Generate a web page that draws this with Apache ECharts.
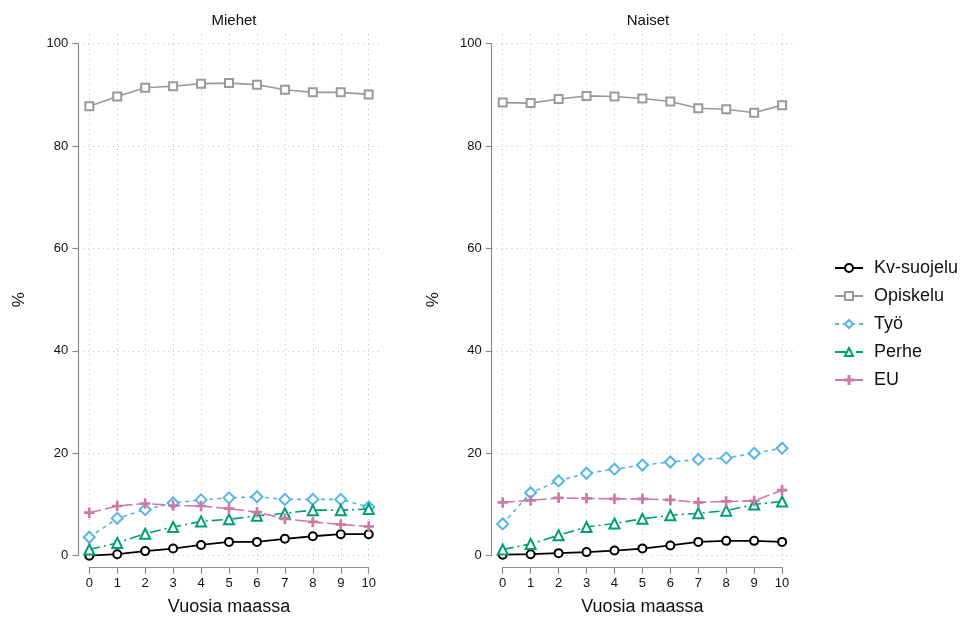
<!DOCTYPE html>
<html><head><meta charset="utf-8">
<script src="https://cdn.jsdelivr.net/npm/echarts@6/dist/echarts.min.js"></script>
<style>html,body{margin:0;padding:0;background:#fff}#c{width:963px;height:617px}</style>
</head><body><div id="c"></div>
<script>
const years = [0,1,2,3,4,5,6,7,8,9,10];
const seriesNames = ['Kv-suojelu','Opiskelu','Työ','Perhe','EU'];
const panelTitles = ['Miehet','Naiset'];
const yTicks = [0,20,40,60,80,100];
// Miehet
const kv_m    = [0, 0.3, 0.9, 1.4, 2.1, 2.7, 2.7, 3.3, 3.8, 4.2, 4.2];
const opisk_m = [87.8, 89.7, 91.4, 91.7, 92.2, 92.3, 92.0, 91.0, 90.5, 90.5, 90.1];
const tyo_m   = [3.6, 7.3, 9.0, 10.3, 10.9, 11.3, 11.5, 11.0, 11.0, 11.0, 9.5];
const perhe_m = [1.2, 2.5, 4.3, 5.6, 6.7, 7.1, 7.8, 8.3, 8.9, 8.9, 9.1];
const eu_m    = [8.4, 9.7, 10.2, 9.8, 9.7, 9.2, 8.5, 7.2, 6.6, 6.1, 5.7];
// Naiset
const kv_n    = [0.2, 0.3, 0.5, 0.7, 1.0, 1.4, 2.0, 2.7, 2.9, 2.9, 2.7];
const opisk_n = [88.5, 88.4, 89.2, 89.8, 89.7, 89.3, 88.7, 87.4, 87.2, 86.5, 88.0];
const tyo_n   = [6.2, 12.3, 14.6, 16.1, 16.9, 17.7, 18.3, 18.8, 19.1, 20.0, 21.0];
const perhe_n = [1.2, 2.3, 4.0, 5.6, 6.3, 7.2, 7.9, 8.3, 8.8, 10.0, 10.6];
const eu_n    = [10.4, 10.8, 11.3, 11.2, 11.1, 11.1, 10.9, 10.4, 10.6, 10.7, 12.8];

const panels = [
  [kv_m, opisk_m, tyo_m, perhe_m, eu_m],
  [kv_n, opisk_n, tyo_n, perhe_n, eu_n]
];

const FONT = 'Liberation Sans, Arial, sans-serif';
const styles = [
  {color:'#000000', type:'solid', symbol:'emptyCircle', size:8, width:1.8},
  {color:'#9a9a9a', type:'solid', symbol:'emptyRect', size:8, width:1.6},
  {color:'#56b4e9', type:[4,4], symbol:'emptyDiamond', size:11, width:1.6},
  {color:'#009e73', type:[11,4,2,4], symbol:'emptyTriangle', size:10, width:1.6},
  {color:'#cc79a7', type:[12,4], symbol:'path://M4.35,0h1.3v4.35h4.35v1.3h-4.35v4.35h-1.3v-4.35h-4.35v-1.3h4.35z', size:9, width:1.6}
];

const layouts = [
  {dataLeft:89.3, axisX:78, gridRight:380.5, cx:229},
  {dataLeft:502.7, axisX:491.5, gridRight:794, cx:643}
];
const dataW = 279.4, plotTop = 43.7, plotH = 512;
const gridColor = '#c4c4c4';

const grid = [], xAxis = [], yAxis = [], series = [], title = [];
layouts.forEach((L, p) => {
  const g0 = grid.length;
  grid.push({left:L.dataLeft, top:plotTop, width:dataW, height:plotH, containLabel:false, outerBoundsMode:'none'});
  grid.push({left:L.axisX, top:plotTop, width:L.gridRight - L.axisX, height:plotH, containLabel:false, outerBoundsMode:'none'});
  grid.push({left:L.dataLeft, top:34, width:dataW, height:528, containLabel:false, outerBoundsMode:'none'});

  xAxis.push({gridIndex:g0, type:'value', min:0, max:10, interval:1, offset:12,
    name:'Vuosia maassa', nameLocation:'middle', nameGap:30,
    nameTextStyle:{fontFamily:FONT, fontSize:18, color:'#111'},
    axisLine:{show:true, onZero:false, lineStyle:{color:'#8c8c8c', width:1.2}},
    axisTick:{show:true, length:6, lineStyle:{color:'#8c8c8c', width:1.2}},
    axisLabel:{fontFamily:FONT, fontSize:13, color:'#111', margin:9},
    splitLine:{show:false}});
  yAxis.push({gridIndex:g0, type:'value', min:0, max:100, interval:20, offset:11,
    name:'%', nameLocation:'middle', nameGap:50, nameRotate:90,
    nameTextStyle:{fontFamily:FONT, fontSize:17, color:'#111'},
    axisLine:{show:true, onZero:false, lineStyle:{color:'#8c8c8c', width:1.2}},
    axisTick:{show:true, length:6, lineStyle:{color:'#8c8c8c', width:1.2}},
    axisLabel:{fontFamily:FONT, fontSize:13, color:'#111', margin:10},
    splitLine:{show:false}});

  xAxis.push({gridIndex:g0+1, type:'value', min:0, max:1, show:true,
    axisLine:{show:false}, axisTick:{show:false}, axisLabel:{show:false}, splitLine:{show:false}});
  yAxis.push({gridIndex:g0+1, type:'value', min:0, max:100, interval:20,
    axisLine:{show:false}, axisTick:{show:false}, axisLabel:{show:false},
    splitLine:{show:true, lineStyle:{color:gridColor, type:[1,4], width:1}}});

  xAxis.push({gridIndex:g0+2, type:'value', min:0, max:10, interval:1,
    axisLine:{show:false}, axisTick:{show:false}, axisLabel:{show:false},
    splitLine:{show:true, lineStyle:{color:gridColor, type:[1,4], width:1}}});
  yAxis.push({gridIndex:g0+2, type:'value', min:0, max:1,
    axisLine:{show:false}, axisTick:{show:false}, axisLabel:{show:false}, splitLine:{show:false}});

  title.push({text:panelTitles[p], left:L.cx, top:8, textAlign:'center',
    textStyle:{fontFamily:FONT, fontSize:15, fontWeight:'normal', color:'#111'}});

  panels[p].forEach((vals, i) => {
    const s = styles[i];
    series.push({
      name: seriesNames[i], type:'line', xAxisIndex:g0, yAxisIndex:g0,
      data: years.map((x, k) => [x, vals[k]]),
      symbol: s.symbol, symbolSize: s.size, showSymbol:true, clip:false,
      lineStyle:{color:s.color, type:s.type, width:s.width},
      itemStyle:{color:s.color, borderColor:s.color, borderWidth:1.5},
      emphasis:{disabled:true}, animation:false, z: 2 + i
    });
  });
});

const chart = echarts.init(document.getElementById('c'), null, {renderer:'canvas'});
chart.setOption({
  backgroundColor:'#ffffff',
  animation:false,
  title: title,
  grid: grid, xAxis: xAxis, yAxis: yAxis, series: series,
  legend: {
    data: seriesNames, orient:'vertical', left:829, top:249,
    itemWidth:28, itemHeight:10, itemGap:0,
    textStyle:{fontFamily:FONT, fontSize:18, color:'#111', padding:[0,0,0,6], lineHeight:28},
    selectedMode:false
  }
});
</script></body></html>
